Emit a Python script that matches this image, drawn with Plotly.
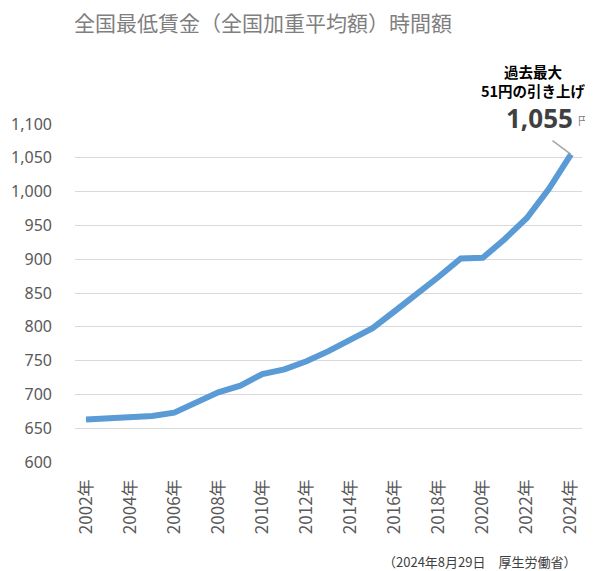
import plotly.graph_objects as go

years = list(range(2002, 2025))
wages = [663, 664, 665, 668, 673, 687, 703, 713, 730, 737, 749, 764, 780, 798,
         823, 848, 874, 901, 902, 930, 961, 1004, 1055]
tick_years = list(range(2002, 2025, 2))
tick_labels = [f"{y}年" for y in tick_years]
y_ticks = list(range(600, 1101, 50))

title_text = "全国最低賃金（全国加重平均額）時間額"
note_text = "過去最大<br>51円の引き上げ"
source_text = "（2024年8月29日　厚生労働省）"

CJK = "'Noto Sans CJK JP', sans-serif"

fig = go.Figure()
fig.add_trace(go.Scatter(
    x=years, y=wages, mode="lines",
    line=dict(color="#5b9bd5", width=6, shape="linear"),
    hoverinfo="x+y", showlegend=False,
))

fig.update_layout(
    width=585, height=563,
    margin=dict(l=67, r=11, t=116, b=109, autoexpand=False),
    paper_bgcolor="white", plot_bgcolor="white",
    font=dict(family=CJK, color="#595959"),
    xaxis=dict(
        range=[2001.5, 2024.5], tickmode="array", tickvals=tick_years,
        ticktext=tick_labels, tickangle=-90, showgrid=False, zeroline=False,
        showline=False, ticks="", automargin=False,
        tickfont=dict(size=17, color="#595959", family=CJK),
        ticklabelstandoff=13,
    ),
    yaxis=dict(
        range=[600, 1100], tickmode="array", tickvals=y_ticks,
        tickformat=",", showgrid=True, gridcolor="#d9d9d9", gridwidth=1,
        zeroline=False, showline=False, ticks="", automargin=False,
        tickfont=dict(size=16, color="#595959",
                      family="'Noto Sans', 'Open Sans', sans-serif"),
        ticklabelstandoff=22,
    ),
)

fig.add_annotation(
    text=title_text, xref="paper", yref="paper", x=0.37, y=1.0,
    yshift=102, xanchor="center", yanchor="middle", showarrow=False,
    font=dict(size=21, color="#7f7f7f", family=CJK),
)
fig.add_annotation(
    text=f"<b>{note_text}</b>", xref="paper", yref="paper", x=0.905, y=1.0,
    yshift=43, xanchor="center", yanchor="middle", showarrow=False,
    font=dict(size=14.5, color="#000000", family=CJK),
    align="center",
)
fig.add_annotation(
    text=f"<b>{wages[-1]:,}</b>",
    xref="x", yref="y", x=years[-1], y=wages[-1],
    xanchor="right", yanchor="middle", showarrow=False, xshift=4, yshift=36,
    font=dict(size=26, color="#404040", family="'Noto Sans', sans-serif"),
)
fig.add_annotation(
    text="円",
    xref="x", yref="y", x=years[-1], y=wages[-1],
    xanchor="left", yanchor="middle", showarrow=False, xshift=5, yshift=34,
    font=dict(size=11, color="#7f7f7f", family=CJK),
)
fig.add_annotation(
    text="", xref="x", yref="y", x=years[-1], y=wages[-1],
    showarrow=True, arrowhead=0, arrowwidth=1.5, arrowcolor="#a6a6a6",
    ax=-20, ay=-15, standoff=0,
)
fig.add_annotation(
    text=source_text, xref="paper", yref="paper", x=0.994, y=0,
    yshift=-99, xanchor="right", yanchor="middle", showarrow=False,
    font=dict(size=13, color="#404040", family=CJK),
)

fig.write_html("out.html")
